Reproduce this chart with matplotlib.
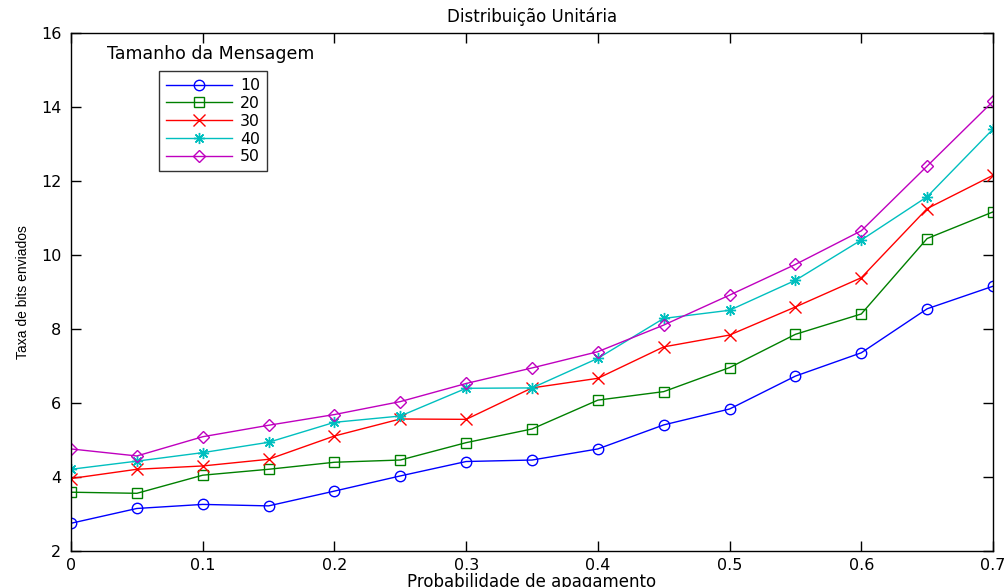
import matplotlib
matplotlib.use("Agg")
import matplotlib.pyplot as plt

plt.rcParams['font.family'] = ['DejaVu Sans']

x = [0, 0.05, 0.1, 0.15, 0.2, 0.25, 0.3, 0.35, 0.4, 0.45, 0.5, 0.55, 0.6, 0.65, 0.7]
s10 = [2.75, 3.15, 3.26, 3.22, 3.62, 4.03, 4.42, 4.46, 4.76, 5.41, 5.84, 6.73, 7.36, 8.55, 9.16]
s20 = [3.59, 3.56, 4.05, 4.21, 4.40, 4.46, 4.93, 5.30, 6.08, 6.31, 6.96, 7.86, 8.41, 10.45, 11.17]
s30 = [3.96, 4.21, 4.30, 4.48, 5.11, 5.57, 5.56, 6.41, 6.67, 7.52, 7.84, 8.60, 9.39, 11.26, 12.16]
s40 = [4.21, 4.43, 4.66, 4.94, 5.48, 5.65, 6.40, 6.41, 7.21, 8.29, 8.51, 9.32, 10.41, 11.58, 13.41]
s50 = [4.76, 4.57, 5.09, 5.40, 5.69, 6.04, 6.53, 6.95, 7.39, 8.11, 8.92, 9.75, 10.66, 12.41, 14.16]
labels = ['10', '20', '30', '40', '50']
xticks = [0, 0.1, 0.2, 0.3, 0.4, 0.5, 0.6, 0.7]
yticks = [2, 4, 6, 8, 10, 12, 14, 16]

W, H = 1006, 587
fig = plt.figure(figsize=(W / 100, H / 100), dpi=100)
ax = fig.add_axes([71 / W, 1 - 551 / H, (993 - 71) / W, (551 - 33.3) / H])

styles = [('#0000ff', 'o', 7.5), ('#008000', 's', 7.5), ('#ff0000', 'x', 9),
          ('#00bfbf', (8, 2, 0), 8), ('#bf00bf', 'D', 6.5)]
series = [s10, s20, s30, s40, s50]
handles = []
for ys, (c, m, ms), lab in zip(series, styles, labels):
    h, = ax.plot(x, ys, color=c, marker=m, markersize=ms, markerfacecolor='none',
                 markeredgecolor=c, markeredgewidth=1.0, linewidth=1.0, label=lab)
    handles.append(h)

ax.set_xlim(0, 0.7)
ax.set_ylim(2, 16)
ax.set_xticks(xticks)
ax.set_xticklabels([('%g' % v) for v in xticks])
ax.set_yticks(yticks)
ax.tick_params(direction='in', length=7, width=1, top=True, right=True,
               labelsize=11.5, pad=5)
ax.tick_params(axis='y', pad=7)
for sp in ax.spines.values():
    sp.set_linewidth(1.0)

ax.set_title('Distribuição Unitária', fontsize=12, pad=8)
ax.set_xlabel('Probabilidade de apagamento', fontsize=12, labelpad=0)
ax.set_ylabel('Taxa de bits enviados', fontsize=10, labelpad=8,
              family=['Liberation Sans', 'DejaVu Sans'])

leg = ax.legend(handles=handles, loc='upper left',
                bbox_to_anchor=(159 / W, 1 - 71 / H), bbox_transform=fig.transFigure,
                fontsize=11.3, frameon=True, fancybox=False, edgecolor='black',
                handlelength=4.2, handletextpad=0.5, borderpad=0.45,
                labelspacing=0.18, borderaxespad=0)
leg.get_frame().set_linewidth(1.0)
fig.text(211 / W, 1 - 54 / H, 'Tamanho da Mensagem', fontsize=12.5,
         ha='center', va='center')

fig.savefig('out.png', dpi=100)
